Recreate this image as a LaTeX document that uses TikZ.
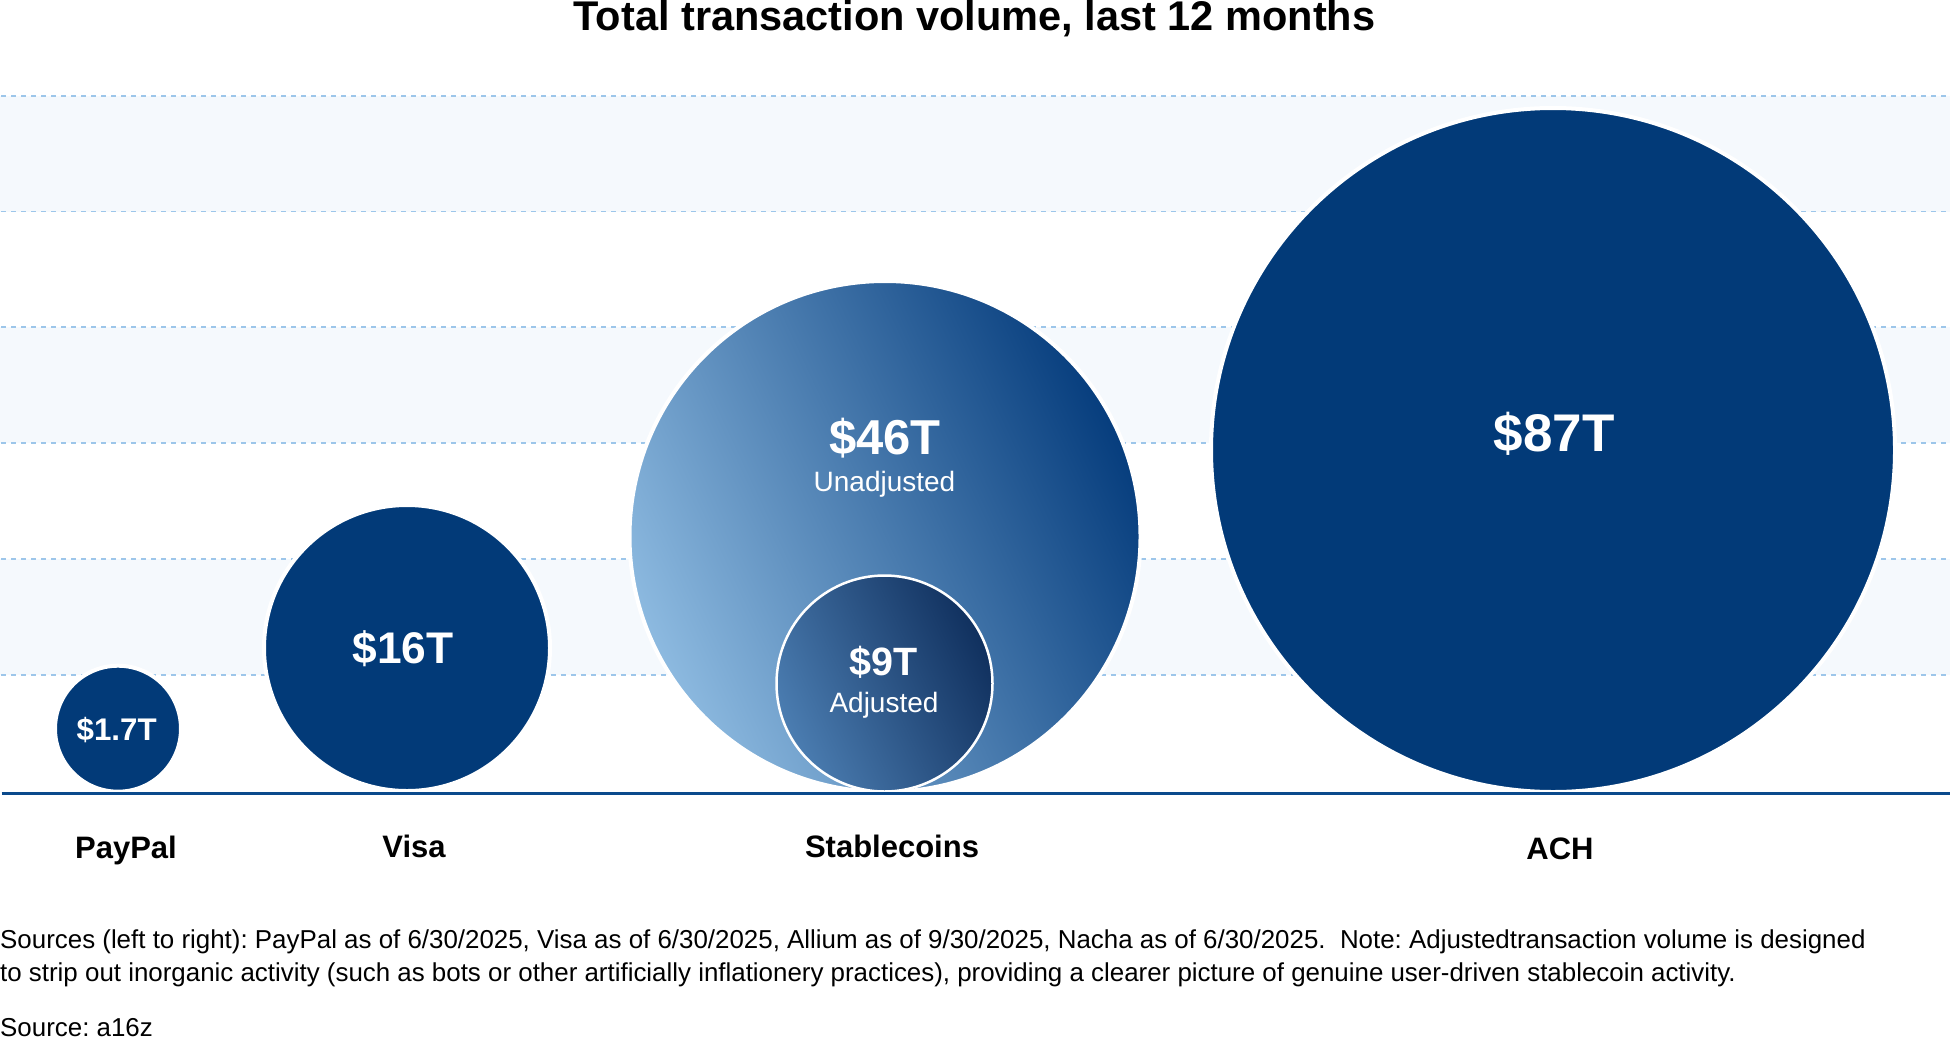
\documentclass[tikz,border=0pt]{standalone}
\usepackage{fontspec}
\setmainfont{Liberation Sans}
\frenchspacing
\definecolor{navy}{HTML}{023A78}
\definecolor{axisblue}{HTML}{0B4A8C}
\definecolor{gridblue}{HTML}{9DC6EA}
\definecolor{bandblue}{HTML}{F5F9FD}
\definecolor{stlight}{HTML}{8DBAE0}
\definecolor{stdark}{HTML}{063D7D}
\definecolor{inlight}{HTML}{4B7DB1}
\definecolor{indark}{HTML}{10305E}
\tikzset{
  bubble/.style={circle, inner sep=0pt, outer sep=0pt, fill=navy, draw=white, line width=4pt},
  gridline/.style={draw=gridblue, line width=1.3pt, dash pattern=on 5pt off 5pt},
  band/.style={fill=bandblue},
  axisline/.style={draw=axisblue, line width=3.4pt},
  val/.style={anchor=base, inner sep=0pt, text=white},
  catlabel/.style={anchor=base, inner sep=0pt, text=black, font=\fontsize{31}{36}\selectfont\bfseries},
  note/.style={anchor=base west, inner sep=0pt, text=black, font=\fontsize{25.9}{30}\selectfont},
}
\begin{document}
\begin{tikzpicture}[x=1pt,y=-1pt]
\useasboundingbox (0,0) rectangle (1950,1039);
\fill[white] (0,0) rectangle (1950,1039);
% bands
\fill[band] (0,96) rectangle (1950,211.5);
\fill[band] (0,327) rectangle (1950,443);
\fill[band] (0,559) rectangle (1950,675);
% grid lines
\foreach \yy in {96,211.5,327,443,559,675} {
  \draw[gridline] (1,\yy) -- (1950,\yy);
}
% title
\node[anchor=base, inner sep=0pt, font=\fontsize{41.5}{48}\selectfont\bfseries] (title) at (974.5,30.7) {Total transaction volume, last 12 months};
% bubbles
\node[bubble, minimum size=126pt] (paypal) at (118,728.7) {};
\node[bubble, minimum size=286pt] (visa) at (407,648) {};
\node[bubble, minimum size=511pt, top color=stdark, bottom color=stlight, shading angle=-65] (stable) at (885,536.5) {};
\node[bubble, minimum size=216pt, line width=2.5pt, top color=indark, bottom color=inlight, shading angle=-65] (adjusted) at (884.5,683.5) {};
\node[bubble, minimum size=684pt] (ach) at (1553,450) {};
% axis
\draw[axisline] (1.5,793.5) -- (1950,793.5);
% values
\node[val, font=\fontsize{31.3}{36}\selectfont\bfseries] (vpaypal) at (116.7,740) {\$1.7T};
\node[val, font=\fontsize{44.3}{50}\selectfont\bfseries] (vvisa) at (403,663.3) {\$16T};
\node[val, font=\fontsize{49}{56}\selectfont\bfseries] (vstable) at (885,454.3) {\$46T};
\node[val, font=\fontsize{28}{32}\selectfont] (ustable) at (884.5,491.7) {Unadjusted};
\node[val, font=\fontsize{39.5}{46}\selectfont\bfseries] (vadj) at (884,675) {\$9T};
\node[val, font=\fontsize{28}{32}\selectfont] (uadj) at (884,712.7) {Adjusted};
\node[val, font=\fontsize{53}{60}\selectfont\bfseries] (vach) at (1554,451.5) {\$87T};
% categories
\node[catlabel] (lpaypal) at (126,858.3) {PayPal};
\node[catlabel] (lvisa) at (414,857.7) {Visa};
\node[catlabel] (lstable) at (892,857.3) {Stablecoins};
\node[catlabel] (lach) at (1560,859.3) {ACH};
% notes
\node[note] (note1) at (0,948) {Sources (left to right): PayPal as of 6/30/2025, Visa as of 6/30/2025, Allium as of 9/30/2025, Nacha as of 6/30/2025.\ \ Note: Adjustedtransaction volume is designed};
\node[note] (note2) at (0,981) {to strip out inorganic activity (such as bots or other artificially inflationery practices), providing a clearer picture of genuine user-driven stablecoin activity.};
\node[note] (source) at (0,1036.7) {Source: a16z};
\end{tikzpicture}
\end{document}
